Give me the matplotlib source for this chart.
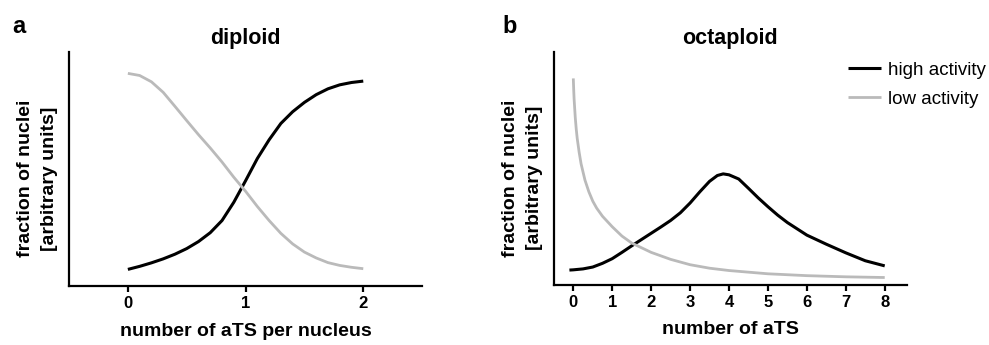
import matplotlib
matplotlib.use("Agg")
import matplotlib.pyplot as plt

plt.rcParams['font.family'] = ['Liberation Sans', 'DejaVu Sans']

# panel a: diploid
dip_x = [0.0, 0.1, 0.2, 0.3, 0.4, 0.5, 0.6, 0.7, 0.8, 0.9, 1.0,
         1.1, 1.2, 1.3, 1.4, 1.5, 1.6, 1.7, 1.8, 1.9, 2.0]
dip_high = [0.071, 0.084, 0.099, 0.116, 0.136, 0.160, 0.190, 0.228, 0.280, 0.358, 0.450,
            0.545, 0.625, 0.695, 0.745, 0.785, 0.818, 0.843, 0.860, 0.870, 0.876]
dip_low = [0.909, 0.900, 0.873, 0.828, 0.768, 0.707, 0.647, 0.590, 0.530, 0.465, 0.405,
           0.340, 0.280, 0.225, 0.180, 0.145, 0.120, 0.100, 0.088, 0.080, 0.074]

# panel b: octaploid
oct_high_x = [-0.1, 0.0, 0.25, 0.5, 0.75, 1.0, 1.25, 1.5, 1.75, 2.0, 2.25, 2.5, 2.75,
              3.0, 3.25, 3.5, 3.7, 3.85, 4.0, 4.25, 4.5, 4.75, 5.0, 5.25, 5.5,
              6.0, 6.5, 7.0, 7.5, 8.0]
oct_high = [0.064, 0.065, 0.069, 0.077, 0.093, 0.113, 0.14, 0.168, 0.195, 0.222, 0.249, 0.277, 0.31,
            0.352, 0.400, 0.445, 0.470, 0.477, 0.473, 0.455, 0.415, 0.374, 0.336, 0.300, 0.268,
            0.214, 0.175, 0.138, 0.104, 0.082]
oct_low_x = [0.0, 0.01, 0.02, 0.035, 0.05, 0.075, 0.1, 0.15, 0.2, 0.3, 0.4, 0.5, 0.6, 0.75,
             1.0, 1.25, 1.5, 2.0, 2.5, 3.0, 3.5, 4.0, 5.0, 6.0, 7.0, 8.0]
oct_low = [0.887, 0.84, 0.80, 0.76, 0.72, 0.67, 0.63, 0.57, 0.52, 0.45, 0.40, 0.36, 0.33, 0.295,
           0.25, 0.21, 0.18, 0.14, 0.11, 0.087, 0.072, 0.062, 0.048, 0.040, 0.035, 0.032]

BLACK = '#000000'
GRAY = '#bababa'

fig = plt.figure(figsize=(9.89, 3.45), dpi=100)
ax1 = fig.add_axes([0.0698, 0.171, 0.357, 0.678])
ax2 = fig.add_axes([0.560, 0.174, 0.357, 0.675])


def style(ax, xlim, ticks, xlabel, title):
    ax.set_xlim(*xlim)
    ax.set_ylim(0, 1)
    for s in ['top', 'right']:
        ax.spines[s].set_visible(False)
    for s in ['left', 'bottom']:
        ax.spines[s].set_linewidth(1.6)
    ax.set_yticks([])
    ax.set_xticks(ticks)
    ax.tick_params(axis='x', length=4, width=1.6, pad=3.5, labelsize=12)
    for lab in ax.get_xticklabels():
        lab.set_fontweight('bold')
    ax.set_xlabel(xlabel, fontsize=14, fontweight='bold', labelpad=8)
    ax.set_ylabel('fraction of nuclei\n[arbitrary units]', fontsize=14,
                  fontweight='bold', linespacing=1.55)
    ax.yaxis.set_label_coords(-0.03, 0.46)
    ax.set_title(title, fontsize=15.5, fontweight='bold', pad=6)


ax1.plot(dip_x, dip_high, color=BLACK, lw=2.2, solid_capstyle='butt', solid_joinstyle='round')
ax1.plot(dip_x, dip_low, color=GRAY, lw=2.0, solid_capstyle='butt', solid_joinstyle='round')
style(ax1, (-0.5, 2.5), [0, 1, 2], 'number of aTS per nucleus', 'diploid')

ax2.plot(oct_high_x, oct_high, color=BLACK, lw=2.2, label='high activity',
         solid_capstyle='butt', solid_joinstyle='round')
ax2.plot(oct_low_x, oct_low, color=GRAY, lw=2.0, label='low activity',
         solid_capstyle='butt', solid_joinstyle='round')
style(ax2, (-0.5, 8.57), list(range(9)), 'number of aTS', 'octaploid')
ax2.legend(loc='upper left', bbox_to_anchor=(0.833, 0.96), frameon=False,
           fontsize=13.5, handlelength=1.75, handletextpad=0.4,
           labelspacing=0.65, borderpad=0, borderaxespad=0)

fig.text(0.012, 0.905, 'a', fontsize=17, fontweight='bold')
fig.text(0.508, 0.905, 'b', fontsize=17, fontweight='bold')

fig.savefig('out.png', dpi=100)
